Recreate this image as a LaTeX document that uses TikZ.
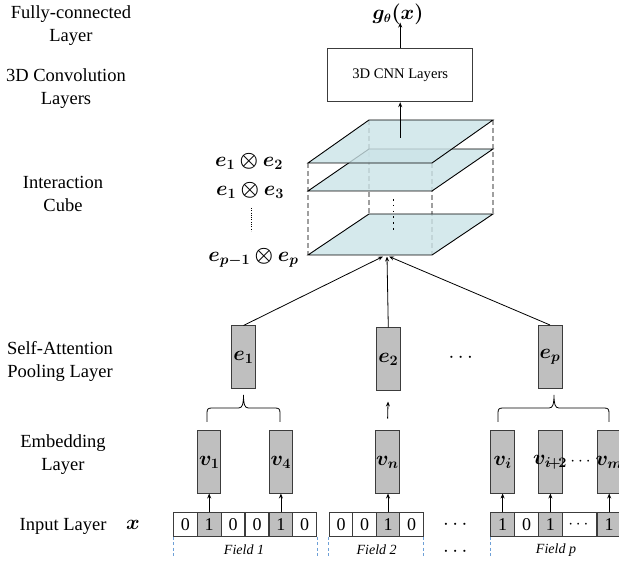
\documentclass[tikz,border=0pt]{standalone}
\usepackage{fontspec}
\setmainfont{Liberation Serif}
\usepackage{amsmath,bm}
\DeclareMathSizes{21}{21}{14}{11}
\DeclareMathSizes{20}{20}{13}{10}
\usetikzlibrary{arrows.meta}
\definecolor{cubefill}{RGB}{203,227,231}
\definecolor{boxgray}{RGB}{191,191,191}
\definecolor{edgec}{RGB}{60,60,60}
\definecolor{fieldblue}{RGB}{110,160,215}
\begin{document}
\begin{tikzpicture}[x=1pt,y=-1pt,
  lbl/.style={align=center, font=\fontsize{18.5}{23}\selectfont, inner sep=0pt},
  mth/.style={font=\fontsize{21}{24}\selectfont, inner sep=0pt},
  ebox/.style={draw=edgec, fill=boxgray, line width=1pt, minimum width=24pt, minimum height=63pt, inner sep=0pt},
  vbox/.style={draw=edgec, fill=boxgray, line width=1pt, minimum width=23.5pt, minimum height=62pt, inner sep=0pt},
  cell/.style={draw=edgec, fill=white, line width=1pt, minimum width=23.8pt, minimum height=23.5pt, inner sep=0pt, font=\fontsize{18}{20}\selectfont},
  gcell/.style={cell, fill=boxgray},
  fld/.style={font=\fontsize{14}{16}\selectfont\itshape, inner sep=0pt},
  arr/.style={-{Stealth[length=5pt,width=4pt]}, line width=0.8pt, black},
  ln/.style={line width=0.8pt, black},
  plane/.style={fill=cubefill, fill opacity=0.8, draw=black, line width=0.9pt},
  vdash/.style={draw=gray!75, line width=1.3pt, dash pattern=on 5pt off 3pt},
  fdash/.style={draw=fieldblue, line width=0.6pt, dash pattern=on 3pt off 2.5pt},
  brc/.style={line width=0.8pt, black}
]
\useasboundingbox (0,0) rectangle (619,561);

% left labels
\node[lbl] (lfc) at (71,25.5) {Fully-connected\\Layer};
\node[lbl] (l3d) at (66,89) {3D Convolution\\Layers};
\node[lbl] (lic) at (63,194) {Interaction\\Cube};
\node[lbl] (lsa) at (60,361) {Self-Attention\\Pooling Layer};
\node[lbl] (lem) at (63,455) {Embedding\\Layer};
\node[lbl] (lin) at (63,526) {Input Layer};
\node[mth] (lx) at (133,525) {$\bm{x}$};

% output and CNN
\node[mth, font=\fontsize{20}{23}\selectfont] (g) at (398,14) {$\bm{g}_{\bm{\theta}}\bm{(x)}$};
\node[draw=edgec, line width=1pt, minimum width=145pt, minimum height=53.4pt, inner sep=0pt,
      font=\fontsize{14.6}{17}\selectfont] (cnn) at (400.2,75) {3D CNN Layers};
\draw[arr] (cnn.north) -- ([yshift=2pt]g.south -| cnn.north);

% cube
\coordinate (A1) at (308,163); \coordinate (B1) at (432,163);
\coordinate (C1) at (493,120); \coordinate (D1) at (369,120);
\coordinate (A2) at (308,191); \coordinate (B2) at (432,191);
\coordinate (C2) at (493,149); \coordinate (D2) at (369,149);
\coordinate (A3) at (308,255); \coordinate (B3) at (432,255);
\coordinate (C3) at (493,214); \coordinate (D3) at (369,214);
\draw[vdash] (D1) -- (D3);
\draw[vdash] (C1) -- (C3);
\draw[vdash] (A1) -- (A3);
\draw[vdash] (B1) -- (B3);
\path[plane] (A3) -- (B3) -- (C3) -- (D3) -- cycle;
\path[plane] (A2) -- (B2) -- (C2) -- (D2) -- cycle;
\path[plane] (A1) -- (B1) -- (C1) -- (D1) -- cycle;
\draw[line width=1.6pt, dash pattern=on 1.6pt off 4.2pt] (393.3,199) -- (393.3,233);
\coordinate (cubetop) at (400.2,138);
\draw[arr] (cubetop) -- (cnn.south);

% cube labels
\node[mth] (l12) at (249,161) {$\bm{e}_{\bm{1}}\bm{\otimes}\bm{e}_{\bm{2}}$};
\node[mth] (l13) at (250,190) {$\bm{e}_{\bm{1}}\bm{\otimes}\bm{e}_{\bm{3}}$};
\draw[line width=1pt, dash pattern=on 1pt off 1.3pt] (251.7,208) -- (251.7,231);
\node[mth] (lpp) at (253.5,258) {$\bm{e}_{\bm{p-1}}\bm{\otimes}\bm{e}_{\bm{p}}$};

% pooling boxes
\node[ebox] (e1) at (243.5,357.5) {};
\node[ebox] (e2) at (388.3,359.5) {};
\node[ebox] (ep) at (550,357) {};
\node[mth] (te1) at (e1.center) {$\bm{e}_{\bm{1}}$};
\node[mth] (te2) at (e2.center) {$\bm{e}_{\bm{2}}$};
\node[mth] (tep) at (ep.center) {$\bm{e}_{\bm{p}}$};
\node[mth] (edots) at (462.5,358) {$\cdots$};

\coordinate (h1) at (383,256.5);
\coordinate (h2) at (387,256.5);
\coordinate (h3) at (389,256.5);
\draw[arr] (e1.north) -- (h1);
\draw[arr] (e2.north) -- (h2);
\draw[arr] (ep.north) -- (h3);

% embedding boxes
\node[vbox] (v1) at (209.2,462) {};
\node[vbox] (v4) at (280.8,462) {};
\node[vbox, minimum width=24pt] (vn) at (387.3,462) {};
\node[vbox, minimum width=24pt] (vi) at (502.7,462) {};
\node[vbox] (vi2) at (550.5,462) {};
\node[vbox] (vm) at (609.1,462) {};
\node[mth] (tv1) at (v1.center) {$\bm{v}_{\bm{1}}$};
\node[mth] (tv4) at (v4.center) {$\bm{v}_{\bm{4}}$};
\node[mth] (tvn) at (vn.center) {$\bm{v}_{\bm{n}}$};
\node[mth] (tvi) at (vi.center) {$\bm{v}_{\bm{i}}$};
\node[mth] (tvi2) at (550,462) {$\bm{v}_{\bm{i}\mkern-3mu\bm{+}\mkern-3mu\bm{2}}$};
\node[mth] (tvm) at (vm.center) {$\bm{v}_{\bm{m}}$};
\node[mth, font=\fontsize{18}{20}\selectfont] (vdots) at (582,462) {$\cdots$};

\draw[arr, shorten <=12pt, shorten >=10pt] (vn.north) -- (e2.south);

% braces
\coordinate (b1l) at (207,422); \coordinate (b1r) at (280,422); \coordinate (b1t) at (243.5,395);
\draw[brc] (b1l) -- (207,413) .. controls (207,409) and (208,408) .. (212,408) -- (238.5,408)
  .. controls (242.5,408) and (243.5,404) .. (b1t) .. controls (243.5,404) and (244.5,408) .. (248.5,408)
  -- (275,408) .. controls (279,408) and (280,409) .. (280,413) -- (b1r);
\coordinate (bpl) at (498,422); \coordinate (bpr) at (609,422); \coordinate (bpt) at (554,395);
\draw[brc] (bpl) -- (498,413) .. controls (498,409) and (499,408) .. (503,408) -- (549,408)
  .. controls (553,408) and (554,404) .. (bpt) .. controls (554,404) and (555,408) .. (559,408)
  -- (604,408) .. controls (608,408) and (609,409) .. (609,413) -- (bpr);

% input cells: field 1
\node[cell]  (f11) at (185.3,524.5) {0};
\node[gcell] (f12) at (209.2,524.5) {1};
\node[cell]  (f13) at (233,524.5) {0};
\node[cell]  (f14) at (257,524.5) {0};
\node[gcell] (f15) at (280.9,524.5) {1};
\node[cell]  (f16) at (304.7,524.5) {0};
% field 2
\node[cell, minimum width=23.5pt]  (f21) at (341,524.5) {0};
\node[cell, minimum width=23.5pt]  (f22) at (364.5,524.5) {0};
\node[gcell, minimum width=23.5pt] (f23) at (388,524.5) {1};
\node[cell, minimum width=23.5pt]  (f24) at (411.5,524.5) {0};
\node[mth] (rowdots) at (457,525) {$\cdots$};
% field p
\node[gcell] (fp1) at (502.6,524.5) {1};
\node[cell]  (fp2) at (526.5,524.5) {0};
\node[gcell] (fp3) at (550.4,524.5) {1};
\node[cell, minimum width=35pt] (fp4) at (579.8,524.5) {$\cdots$};
\node[gcell] (fp5) at (609.2,524.5) {1};
\draw[edgec, line width=2pt] (fp5.north west) -- (fp5.south west);

% arrows input -> embedding
\draw[arr] (f12.north) -- (f12.north |- v1.south);
\draw[arr] (f15.north) -- (f15.north |- v4.south);
\draw[arr] (f23.north) -- (f23.north |- vn.south);
\draw[arr] (fp1.north) -- (fp1.north |- vi.south);
\draw[arr] (fp3.north) -- (fp3.north |- vi2.south);
\draw[arr] (fp5.north) -- (fp5.north |- vm.south);

% field separators
\draw[fdash] (f11.south west) -- ++(0,20);
\draw[fdash] (f16.south east) -- ++(0,20);
\draw[fdash] (f21.south west) -- ++(0,20);
\draw[fdash] (f24.south east) -- ++(0,20);
\draw[fdash] (fp1.south west) -- ++(0,20);

\node[fld] (fl1) at (244,550) {Field 1};
\node[fld] (fl2) at (376.7,550) {Field 2};
\node[mth] (fldots) at (457,552) {$\cdots$};
\node[fld] (flp) at (556,550) {Field p};
\end{tikzpicture}
\end{document}
